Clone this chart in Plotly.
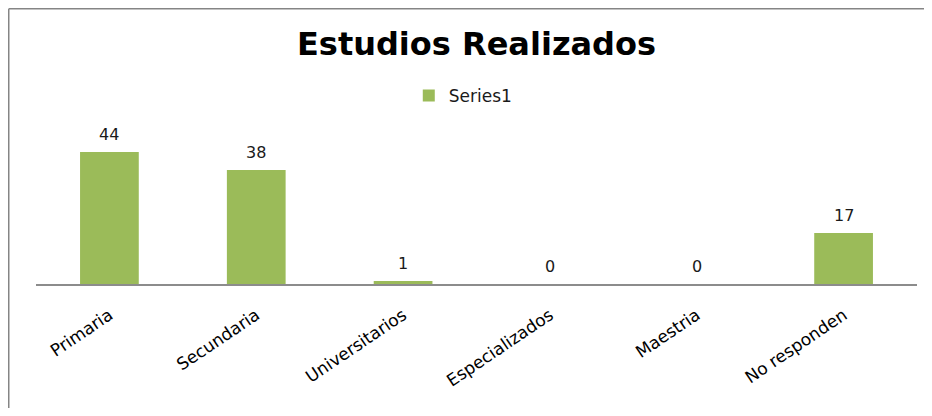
import plotly.graph_objects as go

categories = ["Primaria", "Secundaria", "Universitarios", "Especializados", "Maestria", "No responden"]
values = [44, 38, 1, 0, 0, 17]
series_name = "Series1"

# page is rendered with an 8px body margin, so the figure is sized to fit without scrolling
W, H = 916, 400
L, R, T, B = 28, 7, 96, 124
plot_w = W - L - R
plot_h = H - T - B

fig = go.Figure()
fig.add_trace(go.Bar(
    x=categories, y=values, name=series_name,
    marker=dict(color="#9BBB59", line=dict(width=0)),
    showlegend=True,
))

for c, v in zip(categories, values):
    fig.add_annotation(x=c, y=v, text=str(v), showarrow=False,
                       yanchor="bottom", yshift=6,
                       font=dict(family="DejaVu Sans", size=16, color="#1a1a1a"))

def px_x(p):
    return (p - L) / plot_w

def px_y(p):
    return (H - B - p) / plot_h

border = dict(color="#858585", width=1.5)
# top border
fig.add_shape(type="line", xref="paper", yref="paper",
              x0=px_x(0.75), x1=px_x(W + 20), y0=px_y(0.75), y1=px_y(0.75),
              line=border, layer="below")
# left border
fig.add_shape(type="line", xref="paper", yref="paper",
              x0=px_x(0.75), x1=px_x(0.75), y0=px_y(0.75), y1=px_y(H + 20),
              line=border, layer="below")

fig.update_layout(
    width=W, height=H,
    margin=dict(l=L, r=R, t=T, b=B),
    paper_bgcolor="white", plot_bgcolor="white",
    bargap=0.6,
    title=dict(text="<b>Estudios Realizados</b>", x=0.5, xref="paper", xanchor="center",
               y=1 - 36 / H, yanchor="middle",
               font=dict(family="DejaVu Sans", size=32, color="#000000")),
    legend=dict(orientation="h", x=0.485, xanchor="center", y=px_y(88), yanchor="middle",
                font=dict(family="DejaVu Sans", size=17, color="#1a1a1a"),
                bgcolor="rgba(0,0,0,0)"),
    xaxis=dict(showgrid=False, showline=True, linecolor="#8c8c8c", linewidth=1.5,
               ticks="", tickangle=-34, ticklabelstandoff=13,
               tickfont=dict(family="DejaVu Sans", size=17, color="#000000")),
    yaxis=dict(visible=False, range=[0, 60]),
)

fig.write_html("out.html")
